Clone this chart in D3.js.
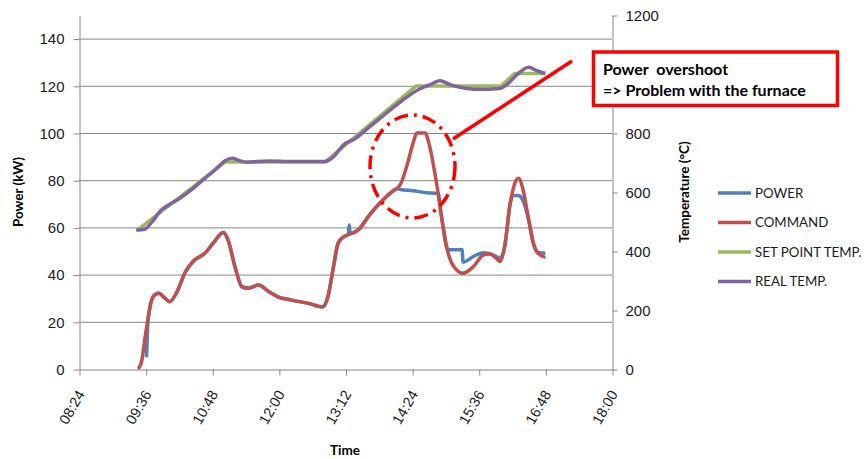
<!DOCTYPE html>
<html lang="en">
<head>
  <meta charset="UTF-8">
  <title>Power and temperature</title>
  <script src="https://cdn.jsdelivr.net/npm/d3@7"></script>
  <style>
    body { margin: 0; background: #fff; }
    svg { display: block; font-family: Lato, "Open Sans", sans-serif; }
    .axis path, .axis line { stroke: #868686; }
    .axis text { font-size: 15px; fill: #1a1a1a; }
    .x-axis text { font-size: 14.5px; }
    .grid line { stroke: #868686; stroke-width: 1; }
    .title { font-weight: bold; font-size: 13.5px; fill: #000; }
    .legend text { font-size: 13.3px; fill: #1a1a1a; }
    .note { font-weight: bold; font-size: 16px; fill: #000; white-space: pre; }
  </style>
</head>
<body>
<div id="chart"></div>
<script>
  // axis ticks
  var timeTicks = ["08:24", "09:36", "10:48", "12:00", "13:12", "14:24", "15:36", "16:48", "18:00"];
  var powerTicks = [0, 20, 40, 60, 80, 100, 120, 140];
  var tempTicks = [0, 200, 400, 600, 800, 1000, 1200];

  var seriesNames = ["POWER", "COMMAND", "SET POINT TEMP.", "REAL TEMP."];
  var seriesColors = ["#4f81bd", "#c0504d", "#9bbb59", "#8064a2"];

  // POWER (kW)
  var powerTime = ["09:37","09:38","09:39","09:44","09:50","09:57","10:02","10:10","10:19","10:28",
    "10:40","10:49","11:00","11:05","11:13","11:20","11:27","11:38","11:49","11:59",
    "12:14","12:32","12:47","12:53","12:59","13:04","13:10","13:15","13:16","13:17",
    "13:26","13:38","13:49","14:00","14:07","14:11","14:25","14:40","14:52","14:55",
    "14:58","15:00","15:02","15:10","15:18","15:19","15:30","15:41","15:52","15:59",
    "16:04","16:10","16:13","16:19","16:23","16:30","16:35","16:40","16:48"];
  var powerKW = [5, 16, 22.2, 30.6, 32.1, 30, 28.5, 32.8, 41.2, 45.9,
    49, 53.3, 57.8, 54.7, 42.7, 34.9, 34.2, 35.6, 32.8, 30.6,
    29.2, 27.8, 26.3, 30.6, 43.3, 53.3, 56, 57, 61, 57.5,
    59.2, 65.3, 70.2, 74.4, 76.4, 76.1, 75.5, 74.7, 74.4, 66.8,
    58.9, 53.5, 50.6, 50.5, 50.6, 45.3, 47.6, 49.3, 48.3, 46.9,
    51.8, 70.2, 73.5, 73.5, 72, 63.1, 53.3, 49.5, 49];

  // COMMAND (kW)
  var commandTime = ["09:28","09:32","09:35","09:39","09:44","09:50","09:57","10:02","10:10","10:19",
    "10:28","10:40","10:49","11:00","11:05","11:13","11:20","11:27","11:38","11:49",
    "11:59","12:14","12:32","12:47","12:53","12:59","13:04","13:10","13:19","13:26",
    "13:38","13:49","14:00","14:11","14:18","14:25","14:29","14:38","14:43","14:51",
    "14:58","15:03","15:09","15:19","15:30","15:41","15:48","15:55","15:59","16:04",
    "16:10","16:15","16:19","16:24","16:30","16:35","16:40","16:48"];
  var commandKW = [0, 3.8, 12.3, 22.2, 30.6, 32.1, 30, 28.5, 32.8, 41.2,
    45.9, 49, 53.3, 57.8, 54.7, 42.7, 34.9, 34.2, 35.6, 32.8,
    30.6, 29.2, 27.8, 26.3, 30.6, 43.3, 53.3, 56, 57.5, 58.9,
    65.3, 70.2, 74.4, 78, 85.7, 95.6, 100, 100, 94.2, 77.2,
    58.9, 49, 43.4, 40.6, 43.3, 48.3, 48.7, 46.9, 45.5, 51.8,
    70.2, 78.7, 80.8, 75.8, 63.1, 53.3, 49, 47.3];

  // SET POINT TEMP. (°C)
  var setTime = ["09:26","11:02","12:50","14:28","16:00","16:15","16:48"];
  var setTemp = [468, 702, 702, 959, 959, 1002, 1002];

  // REAL TEMP. (°C)
  var realTime = ["09:26","09:35","09:43","09:53","10:02","10:13","10:26","10:40","10:51","11:02",
    "11:10","11:16","11:25","11:49","12:14","12:50","12:57","13:12","13:20","13:38",
    "13:56","14:14","14:32","14:43","14:54","15:05","15:16","15:34","15:59","16:06",
    "16:17","16:30","16:39","16:48"];
  var realTemp = [471, 474, 499, 539, 558, 579, 609, 646, 675, 706,
    714, 708, 701, 705, 703, 703, 714, 765, 776, 821,
    867, 912, 949, 963, 977, 964, 955, 948, 951, 963,
    997, 1023, 1011, 1002];

  var noteLines = ["Power  overshoot", "=> Problem with the furnace"];

  var parseTime = d3.timeParse("%H:%M");

  var width = 866, height = 459;
  var svg = d3.select("#chart").append("svg")
    .attr("width", width)
    .attr("height", height);

  var x = d3.scaleTime()
    .domain([parseTime("08:24"), parseTime("18:00")])
    .range([79, 612]);
  var yPower = d3.scaleLinear().domain([0, 150]).range([369, 15]);
  var yTemp = d3.scaleLinear().domain([0, 1200]).range([369, 15]);

  // horizontal gridlines
  svg.append("g").attr("class", "grid")
    .selectAll("line")
    .data(powerTicks.filter(function(d) { return d > 0; }))
    .enter().append("line")
    .attr("x1", 79).attr("x2", 612)
    .attr("y1", function(d) { return yPower(d) + 0.5; })
    .attr("y2", function(d) { return yPower(d) + 0.5; });

  // axes
  svg.append("g").attr("class", "axis")
    .attr("transform", "translate(79.5,0.5)")
    .call(d3.axisLeft(yPower).tickValues(powerTicks).tickSize(6).tickSizeOuter(0).tickPadding(9));

  svg.append("g").attr("class", "axis")
    .attr("transform", "translate(612.5,0.5)")
    .call(d3.axisRight(yTemp).tickValues(tempTicks).tickFormat(d3.format("d"))
      .tickSize(5).tickSizeOuter(0).tickPadding(8));

  var xAxis = svg.append("g").attr("class", "axis x-axis")
    .attr("transform", "translate(0.5,369.5)")
    .call(d3.axisBottom(x).tickValues(timeTicks.map(parseTime))
      .tickFormat(d3.timeFormat("%H:%M")).tickSize(6).tickSizeOuter(0));

  xAxis.selectAll("text")
    .attr("text-anchor", "end")
    .attr("transform", "translate(1,22) rotate(-60)")
    .attr("x", 0).attr("y", 0).attr("dy", "0.35em");

  // series lines
  function series(times, values, scale) {
    return times.map(function(t, i) { return { t: parseTime(t), v: values[i], s: scale }; });
  }
  var lines = [
    { pts: series(powerTime, powerKW, yPower), curve: d3.curveMonotoneX },
    { pts: series(commandTime, commandKW, yPower), curve: d3.curveMonotoneX },
    { pts: series(setTime, setTemp, yTemp), curve: d3.curveLinear },
    { pts: series(realTime, realTemp, yTemp), curve: d3.curveMonotoneX }
  ];

  svg.append("g").selectAll("path")
    .data(lines)
    .enter().append("path")
    .attr("fill", "none")
    .attr("stroke", function(d, i) { return seriesColors[i]; })
    .attr("stroke-width", 3.5)
    .attr("stroke-linejoin", "round")
    .attr("d", function(d) {
      return d3.line()
        .x(function(p) { return x(p.t); })
        .y(function(p) { return p.s(p.v); })
        .curve(d.curve)(d.pts);
    });

  // axis titles
  svg.append("text").attr("class", "title")
    .attr("transform", "translate(23,192) rotate(-90)")
    .attr("text-anchor", "middle")
    .text("Power (kW)");

  svg.append("text").attr("class", "title")
    .attr("transform", "translate(689,192) rotate(-90)")
    .attr("text-anchor", "middle")
    .text("Temperature (°C)");

  svg.append("text").attr("class", "title")
    .attr("x", 345).attr("y", 455)
    .attr("text-anchor", "middle")
    .text("Time");

  // legend
  var legend = svg.append("g").attr("class", "legend")
    .selectAll("g")
    .data(seriesNames)
    .enter().append("g")
    .attr("transform", function(d, i) { return "translate(718," + (193 + i * 29.5) + ")"; });
  legend.append("line")
    .attr("x1", 0).attr("x2", 33)
    .attr("stroke", function(d, i) { return seriesColors[i]; })
    .attr("stroke-width", 3.5);
  legend.append("text")
    .attr("x", 37).attr("dy", "0.35em")
    .text(function(d) { return d; });

  // annotation
  svg.append("ellipse")
    .attr("cx", 412.5).attr("cy", 166.5)
    .attr("rx", 42.5).attr("ry", 51.5)
    .attr("fill", "none")
    .attr("stroke", "#ff0000")
    .attr("stroke-width", 3.5)
    .attr("stroke-dasharray", "14,6,3,6");

  svg.append("line")
    .attr("x1", 453).attr("y1", 139)
    .attr("x2", 572).attr("y2", 61)
    .attr("stroke", "#ff0000")
    .attr("stroke-width", 3.5);

  // the box sits over the 1000 label, as in the original
  svg.append("rect")
    .attr("x", 593.5).attr("y", 52)
    .attr("width", 244).attr("height", 53.5)
    .attr("fill", "#fff")
    .attr("stroke", "#ff0000")
    .attr("stroke-width", 3.5);

  svg.selectAll("text.note")
    .data(noteLines)
    .enter().append("text")
    .attr("class", "note")
    .attr("x", 603)
    .attr("y", function(d, i) { return 75 + i * 21; })
    .text(function(d) { return d; });
</script>
</body>
</html>
